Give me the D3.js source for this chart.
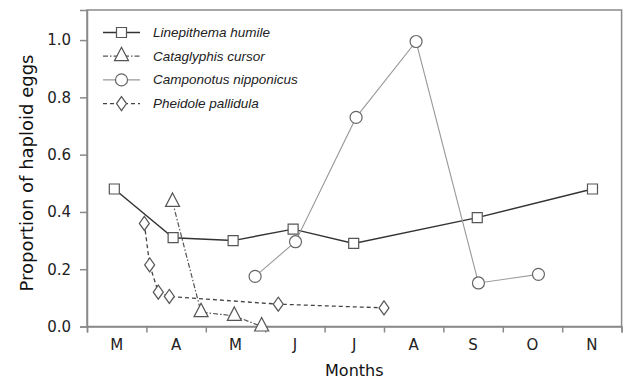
<!DOCTYPE html>
<html><head><meta charset="utf-8">
<script src="https://cdn.jsdelivr.net/npm/d3@7"></script>
<style>body{margin:0;background:#fff}svg{display:block}</style>
</head><body><svg id="c" width="624" height="380"></svg>
<script>
// Month labels (March .. November); x values are fractional month index (0 = start of March)
const months = ["M","A","M","J","J","A","S","O","N"];
const yTicks = [0, 0.2, 0.4, 0.6, 0.8, 1.0];
const seriesNames = ["Linepithema humile","Cataglyphis cursor","Camponotus nipponicus","Pheidole pallidula"];
const linepithema = [[0.46,0.48],[1.45,0.31],[2.46,0.30],[3.47,0.34],[4.49,0.29],[6.57,0.38],[8.51,0.48]];
const cataglyphis = [[1.44,0.435],[1.92,0.05],[2.48,0.037],[2.94,0.0]];
const camponotus = [[2.83,0.175],[3.51,0.296],[4.53,0.73],[5.54,0.995],[6.59,0.152],[7.60,0.182]];
const pheidole = [[0.965,0.36],[1.055,0.215],[1.2,0.12],[1.386,0.105],[3.22,0.078],[5.0,0.065]];

const svg = d3.select("#c");
const L=87, R=621.6, T=10, B=326.5;
const x = d3.scaleLinear().domain([0,9]).range([L,R]);
const y = d3.scaleLinear().domain([0,1.105]).range([B,T]);
const axisCol="#8a8a8a";
const font="DejaVu Sans, Verdana, sans-serif";

// frame
svg.append("rect").attr("x",L).attr("y",T).attr("width",R-L).attr("height",B-T)
  .attr("fill","none").attr("stroke",axisCol).attr("stroke-width",1.5);

// y axis
const ya = svg.append("g").attr("transform",`translate(${L},0)`)
  .call(d3.axisLeft(y).tickValues(yTicks).tickFormat(d3.format(".1f")).tickSize(7).tickPadding(9));
ya.select(".domain").attr("stroke",axisCol).attr("stroke-width",1.5);
ya.selectAll(".tick line").attr("stroke",axisCol).attr("stroke-width",1.5);
ya.selectAll(".tick text").attr("font-family",font).attr("font-size",15).attr("fill","#222");

// x axis
const xa = svg.append("g").attr("transform",`translate(0,${B})`)
  .call(d3.axisBottom(x).tickValues(d3.range(0,10)).tickFormat("").tickSize(6));
xa.select(".domain").attr("stroke",axisCol).attr("stroke-width",1.5);
xa.selectAll(".tick line").attr("stroke",axisCol).attr("stroke-width",1.5);
svg.append("g").selectAll("text").data(months).join("text")
  .attr("x",(d,i)=>x(i+0.5)).attr("y",B+23).attr("text-anchor","middle")
  .attr("font-family",font).attr("font-size",15).attr("fill","#222").text(d=>d);

svg.append("text").attr("x",(L+R)/2).attr("y",376).attr("text-anchor","middle")
  .attr("font-family",font).attr("font-size",16).attr("fill","#111").text("Months");
svg.append("text").attr("transform",`translate(33,173) rotate(-90)`).attr("text-anchor","middle")
  .attr("font-family",font).attr("font-size",18).attr("fill","#111").text("Proportion of haploid eggs");

const styles = [
  {data:linepithema, stroke:"#333", w:1.4, dash:null, mark:"square"},
  {data:cataglyphis, stroke:"#555", w:1.2, dash:"5,2,1.5,2", mark:"triangle"},
  {data:camponotus, stroke:"#9a9a9a", w:1.1, dash:null, mark:"circle"},
  {data:pheidole, stroke:"#444", w:1.3, dash:"4,3", mark:"diamond"}
];
const markerPath = {
  square: d3.symbol(d3.symbolSquare, 100)(),
  triangle: "M0,-9L7,4.5L-7,4.5Z",
  circle: d3.symbol(d3.symbolCircle, 113)(),
  diamond: "M0,-7L5,0L0,7L-5,0Z"
};
const markStroke = {square:"#555",triangle:"#555",circle:"#666",diamond:"#555"};
const line = d3.line().x(d=>x(d[0])).y(d=>y(d[1]));

styles.forEach(s=>{
  svg.append("path").attr("d",line(s.data)).attr("fill","none").attr("stroke",s.stroke)
    .attr("stroke-width",s.w).attr("stroke-dasharray",s.dash);
});
styles.forEach(s=>{
  svg.append("g").selectAll("path").data(s.data).join("path")
    .attr("transform",d=>`translate(${x(d[0])},${y(d[1])})`)
    .attr("d",markerPath[s.mark]).attr("fill","#fff").attr("stroke",markStroke[s.mark]).attr("stroke-width",1.2);
});

// legend
const lg = svg.append("g");
styles.forEach((s,i)=>{
  const yy = 32.5 + i*23.7;
  lg.append("line").attr("x1",103).attr("x2",140).attr("y1",yy).attr("y2",yy)
    .attr("stroke",s.stroke).attr("stroke-width",s.w).attr("stroke-dasharray",s.dash);
  lg.append("path").attr("transform",`translate(121.5,${yy})`).attr("d",markerPath[s.mark])
    .attr("fill","#fff").attr("stroke",markStroke[s.mark]).attr("stroke-width",1.2);
  lg.append("text").attr("x",153).attr("y",yy+4.5).attr("font-family","Liberation Sans, Arial, sans-serif")
    .attr("font-style","italic").attr("font-size",13.5).attr("fill","#222").text(seriesNames[i]);
});
</script></body></html>
